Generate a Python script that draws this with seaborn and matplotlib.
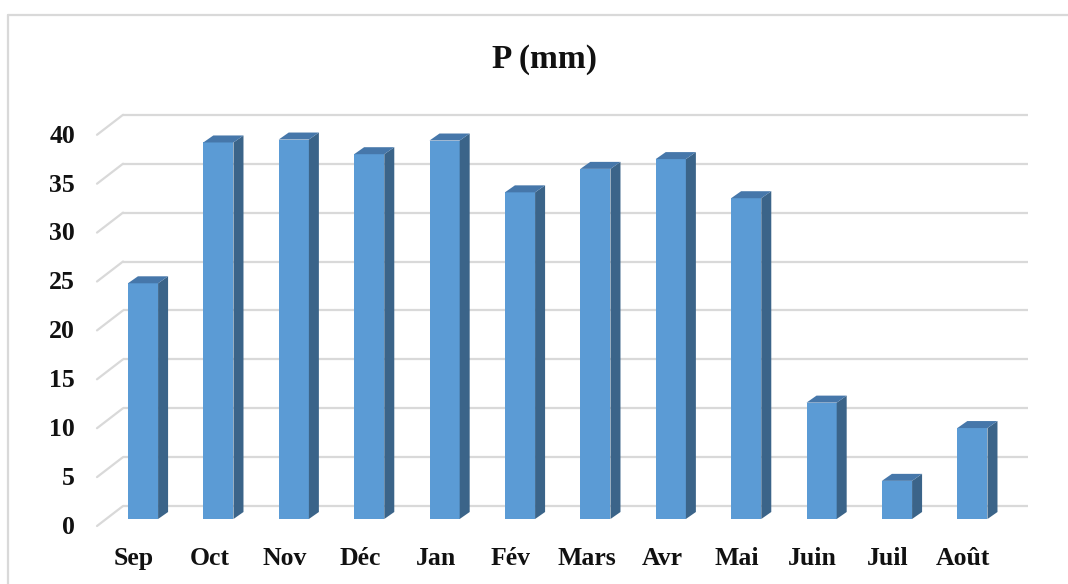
import numpy as np
import pandas as pd
import matplotlib
matplotlib.use("Agg")
import matplotlib.pyplot as plt
from matplotlib.patches import Polygon
from matplotlib.lines import Line2D
import seaborn as sns

# Monthly precipitation (mm)
months = ["Sep", "Oct", "Nov", "Déc", "Jan", "Fév", "Mars", "Avr", "Mai", "Juin", "Juil", "Août"]
precip = [24.1, 38.5, 38.8, 37.3, 38.7, 33.4, 35.8, 36.8, 32.8, 11.9, 3.9, 9.3]
y_ticks = [0, 5, 10, 15, 20, 25, 30, 35, 40]
title = "P (mm)"

sns.set_theme(style="white")
plt.rcParams["font.family"] = ["Liberation Serif", "DejaVu Serif"]

W, H = 1068, 584
fig = plt.figure(figsize=(W / 100, H / 100), dpi=100)
ax = fig.add_axes([0, 0, 1, 1])

df = pd.DataFrame({"mois": months, "P": precip})
sns.barplot(data=df, x="mois", y="P", color="#5b9bd5", saturation=1,
            width=0.4, ax=ax, zorder=3, linewidth=0)

# pixel-aligned data limits
px0, px_step = 143.0, 75.4
py0, py_step = 519.0, 9.78
ax.set_xlim(-px0 / px_step, (W - px0) / px_step)
ax.set_ylim((py0 - H) / py_step, py0 / py_step)
ax.axis("off")

# depth offsets (data units)
bar_dx, bar_dy = 10 / px_step, 7 / py_step          # bar thickness
back_dx, back_dy = 17 / px_step, 13 / py_step       # bar front -> back wall
front_dx, front_dy = -9 / px_step, -7 / py_step     # bar front -> front plane

grid_c = "#d9d9d9"
wall_left = -0.265
wall_right = (1028 - px0) / px_step
front_left = (97 - px0) / px_step
for v in y_ticks:
    ax.plot([wall_left, wall_right], [v + back_dy, v + back_dy],
            color=grid_c, lw=1.6, zorder=1, solid_capstyle="butt")
    ax.plot([front_left, wall_left], [v + front_dy, v + back_dy],
            color=grid_c, lw=1.6, zorder=1)
    ax.text((75 - px0) / px_step, v - 0.85, str(v), ha="right", va="center",
            fontsize=18.5, fontweight="bold", color="#111111")

# 3D side and top faces of each bar
side_c, top_c = "#3b6489", "#4677aa"
for p in ax.patches[:len(precip)]:
    x0, w, h = p.get_x(), p.get_width(), p.get_height()
    x1 = x0 + w
    side = Polygon([(x1, 0), (x1 + bar_dx, bar_dy), (x1 + bar_dx, h + bar_dy), (x1, h)],
                   closed=True, facecolor=side_c, edgecolor="none", zorder=3)
    top = Polygon([(x0, h), (x0 + bar_dx, h + bar_dy), (x1 + bar_dx, h + bar_dy), (x1, h)],
                  closed=True, facecolor=top_c, edgecolor="none", zorder=3)
    ax.add_patch(side)
    ax.add_patch(top)

for i, m in enumerate(months):
    ax.text(i + front_dx, (py0 - 565) / py_step, m, ha="center", va="baseline",
            fontsize=18.5, fontweight="bold", color="#111111")

fig.text(545 / W, 1 - 67.3 / H, title, ha="center", va="baseline",
         fontsize=24, fontweight="bold", color="#111111")

# chart frame
fig.add_artist(Line2D([8 / W, 1], [1 - 15 / H, 1 - 15 / H], color=grid_c, lw=1.6,
                      transform=fig.transFigure))
fig.add_artist(Line2D([8 / W, 8 / W], [1 - 15 / H, 0], color=grid_c, lw=1.6,
                      transform=fig.transFigure))

fig.savefig("out.png", dpi=100)
